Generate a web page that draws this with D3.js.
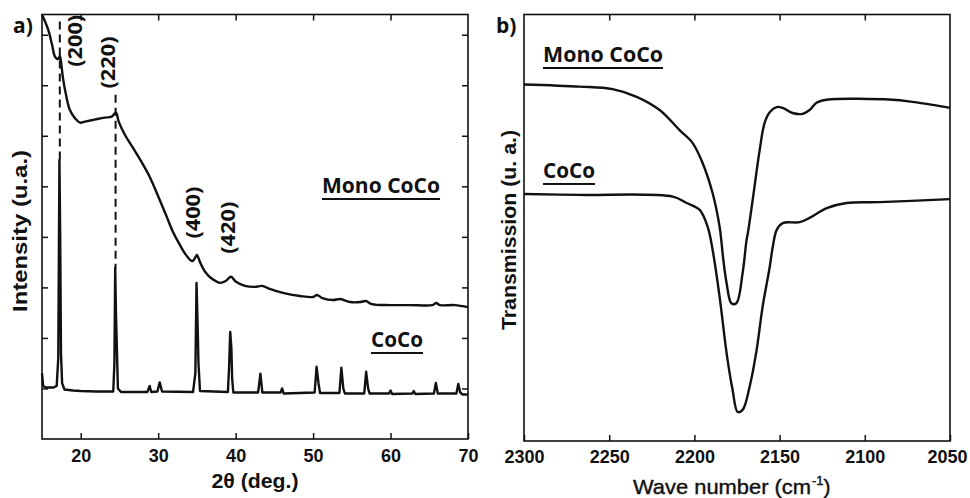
<!DOCTYPE html>
<html><head><meta charset="utf-8">
<script src="https://cdn.jsdelivr.net/npm/d3@7"></script>
<style>body{margin:0;background:#fff}svg{display:block}</style>
</head><body>
<svg id="c" width="970" height="498"></svg>
<script>
// ---------- Data ----------
// Panel a) XRD, 2θ (deg.) vs intensity (u.a.)
const xrdTicks = [20, 30, 40, 50, 60, 70];
const xrdYTicks = [1, 2, 3, 4, 5, 6, 7, 8];
const monoXRD = [
 [15.0,8.40],[15.8,8.10],[16.3,7.80],[16.7,7.56],[17.1,7.52],[17.3,7.58],[17.45,7.47],[17.7,7.15],
 [18.1,6.81],[18.6,6.51],[19.3,6.34],[19.9,6.26],[20.55,6.28],[21.8,6.32],[23.1,6.36],[24.0,6.38],
 [24.55,6.46],[24.9,6.28],[25.7,6.02],[26.75,5.76],[27.9,5.47],[28.9,5.19],[30.2,4.73],[31.1,4.40],
 [31.9,4.10],[32.8,3.84],[33.7,3.62],[34.4,3.52],[34.75,3.58],[35.0,3.64],[35.4,3.50],[36.05,3.31],
 [36.95,3.17],[38.0,3.09],[38.75,3.13],[39.4,3.21],[40.05,3.11],[41.2,3.03],[42.5,3.01],[43.4,3.03],
 [44.4,2.97],[46.1,2.89],[48.3,2.83],[50.0,2.81],[50.5,2.85],[51.2,2.79],[52.6,2.75],[53.5,2.77],
 [54.8,2.71],[56.1,2.71],[56.8,2.73],[57.6,2.67],[59.9,2.65],[62.5,2.65],[65.4,2.65],[65.9,2.69],
 [66.4,2.65],[68.3,2.65],[70.0,2.61]
];
const cocoXRD = [
 [15.0,1.30],[15.15,1.05],[15.5,1.02],[16.5,1.02],[16.9,1.05],[17.1,1.6],[17.25,5.52],[17.35,4.0],
 [17.45,1.70],[17.6,1.1],[17.9,0.98],[19,0.96],[20,0.95],[22,0.94],[24.2,0.94],[24.35,1.5],
 [24.45,3.39],[24.55,2.5],[24.65,1.9],[24.8,1.0],[25.2,0.93],[28.6,0.93],[28.9,1.05],[29.1,0.93],
 [29.9,0.94],[30.2,1.12],[30.5,0.94],[34.5,0.93],[34.8,1.3],[34.95,3.09],[35.1,2.2],[35.2,1.5],
 [35.4,0.95],[39.0,0.93],[39.15,1.4],[39.3,2.12],[39.45,1.8],[39.55,1.2],[39.7,0.92],[42.9,0.92],
 [43.2,1.29],[43.45,0.92],[45.8,0.92],[46.0,1.0],[46.2,0.9],[50.2,0.92],[50.45,1.43],[50.7,1.1],
 [50.9,0.91],[53.4,0.91],[53.65,1.41],[53.9,1.0],[54.1,0.9],[56.6,0.9],[56.85,1.33],[57.1,1.0],
 [57.3,0.9],[59.8,0.9],[60.0,0.96],[60.2,0.89],[62.8,0.9],[63.0,0.95],[63.2,0.89],[65.6,0.9],
 [65.85,1.11],[66.1,0.9],[68.5,0.9],[68.75,1.09],[69.0,0.92],[69.3,0.88],[70.0,0.88]
];
// dashed reference lines: [2θ, top, bottom]
const dashLines = [[17.3, 8.26, 5.52], [24.5, 6.81, 3.39]];
// peak labels: [text, 2θ, y]
const peakLabels = [["(200)",19.26,7.88],["(220)",23.5,7.45],["(400)",34.5,4.48],["(420)",39.0,4.18]];

// Panel b) IR, wave number vs transmission
const irTicks = [2300, 2250, 2200, 2150, 2100, 2050];
const monoIR = [
 [2300,83.6],[2267.3,83.1],[2248,82.5],[2233.9,80.7],[2220.4,77.6],[2208.7,72.9],[2201.1,69.9],
 [2195.2,65.2],[2189.3,58.1],[2185.2,50.2],[2183,42.4],[2181.1,37.0],[2178.3,32.3],[2175.4,32.3],
 [2171.7,39.4],[2169.4,47.1],[2168.6,48.8],[2165.8,56.5],[2161.7,68.2],[2158.8,74.6],[2155.8,77.1],
 [2151.7,78.3],[2148.2,78.1],[2142.4,76.9],[2136.5,76.7],[2132.4,77.6],[2128.3,79.3],[2122.4,80.0],
 [2083.7,80.0],[2072,79.5],[2060.2,78.8],[2050,78.1]
];
const cocoIR = [
 [2300,57.9],[2267.3,57.7],[2212.7,57.3],[2204.5,55.8],[2196.9,54.2],[2192.2,50.2],[2189.3,44.8],
 [2185.2,33.8],[2181.1,20.6],[2177.6,12.0],[2174.6,6.8],[2171.7,7.3],[2167.6,12.7],[2163.5,21.3],
 [2160,31.4],[2155.8,40.8],[2154.1,45.3],[2151.7,49.5],[2148.2,51.1],[2138.2,51.3],[2132.4,52.3],
 [2122.4,54.6],[2110.7,55.8],[2091.3,56.0],[2050,56.7]
];

// ---------- Drawing ----------
const svg = d3.select("#c");
const black = "#111";
const sans = "'Liberation Sans', Arial, sans-serif";
const cal = "'Open Sans', sans-serif";

function frame(g, x0, x1, y0, y1) {
  g.append("rect").attr("x", x0).attr("y", y1).attr("width", x1 - x0).attr("height", y0 - y1)
    .attr("fill", "none").attr("stroke", black).attr("stroke-width", 1.6);
}
const noDomain = g => g.select(".domain").remove();

// Panel a
const ax = d3.scaleLinear().domain([15, 70]).range([42, 468]);
const ay = d3.scaleLinear().domain([0, 8.4]).range([439, 14.5]);
const gA = svg.append("g");
frame(gA, 42, 468, 439, 14.5);

gA.append("g").attr("transform", `translate(0,${ay(0)})`)
  .call(d3.axisBottom(ax).tickValues(xrdTicks).tickSizeInner(-6).tickSizeOuter(0).tickPadding(10)).call(noDomain);
gA.append("g").attr("transform", `translate(0,${ay(8.4)})`)
  .call(d3.axisTop(ax).tickValues(xrdTicks.slice(0, 5)).tickSizeInner(-6).tickSizeOuter(0).tickFormat("")).call(noDomain);
gA.append("g").attr("transform", `translate(${ax(15)},0)`)
  .call(d3.axisLeft(ay).tickValues(xrdYTicks).tickSizeInner(-6).tickSizeOuter(0).tickFormat("")).call(noDomain);
gA.append("g").attr("transform", `translate(${ax(70)},0)`)
  .call(d3.axisRight(ay).tickValues(xrdYTicks).tickSizeInner(-6).tickSizeOuter(0).tickFormat("")).call(noDomain);

const lineA = d3.line().x(d => ax(d[0])).y(d => ay(d[1]));
const lineAs = d3.line().x(d => ax(d[0])).y(d => ay(d[1])).curve(d3.curveCatmullRom.alpha(0.5));
gA.append("path").datum(monoXRD).attr("d", lineAs).attr("fill", "none").attr("stroke", black).attr("stroke-width", 2.4).attr("stroke-linejoin", "round");
gA.append("path").datum(cocoXRD).attr("d", lineA).attr("fill", "none").attr("stroke", black).attr("stroke-width", 2.4).attr("stroke-linejoin", "round");
gA.selectAll(".dash").data(dashLines).enter().append("line")
  .attr("x1", d => ax(d[0])).attr("x2", d => ax(d[0])).attr("y1", d => ay(d[1])).attr("y2", d => ay(d[2]))
  .attr("stroke", black).attr("stroke-width", 2).attr("stroke-dasharray", "8,5");
gA.selectAll(".pl").data(peakLabels).enter().append("text")
  .attr("transform", d => `translate(${ax(d[1])},${ay(d[2])}) rotate(-90)`)
  .attr("text-anchor", "middle").attr("dominant-baseline", "central")
  .attr("textLength", 52).attr("lengthAdjust", "spacingAndGlyphs")
  .style("font-family", cal).style("font-weight", 700).style("font-size", "19px").attr("fill", black)
  .text(d => d[0]);

// Panel b
const bx = d3.scaleLinear().domain([2300, 2050]).range([524, 950]);
const by = d3.scaleLinear().domain([0, 100]).range([441, 14.5]);
const gB = svg.append("g");
frame(gB, 524, 950, 441, 14.5);
gB.append("g").attr("transform", `translate(0,${by(0)})`)
  .call(d3.axisBottom(bx).tickValues(irTicks).tickFormat(d3.format("d")).tickSizeInner(-6).tickSizeOuter(0).tickPadding(9)).call(noDomain);
gB.append("g").attr("transform", `translate(0,${by(100)})`)
  .call(d3.axisTop(bx).tickValues(irTicks.slice(1, 5)).tickSizeInner(-6).tickSizeOuter(0).tickFormat("")).call(noDomain);
const lineB = d3.line().x(d => bx(d[0])).y(d => by(d[1])).curve(d3.curveCatmullRom.alpha(0.5));
gB.append("path").datum(monoIR).attr("d", lineB).attr("fill", "none").attr("stroke", black).attr("stroke-width", 2.4).attr("stroke-linejoin", "round");
gB.append("path").datum(cocoIR).attr("d", lineB).attr("fill", "none").attr("stroke", black).attr("stroke-width", 2.4).attr("stroke-linejoin", "round");

// tick styling
svg.selectAll(".tick line").attr("stroke", black).attr("stroke-width", 1.5);
svg.selectAll(".tick text").style("font-family", sans).style("font-weight", 700).style("font-size", "18px").attr("fill", black);
gB.selectAll(".tick text").filter(d => d === 2050).attr("dx", -3);

// Labels
function lab(x, y, t, size, opts = {}) {
  const el = svg.append("text").attr("x", x).attr("y", y).text(t)
    .style("font-family", opts.font || cal).style("font-weight", opts.weight || 700)
    .style("font-size", size + "px").attr("fill", black)
    .attr("text-anchor", opts.anchor || "start");
  if (opts.len) el.attr("textLength", opts.len).attr("lengthAdjust", "spacingAndGlyphs");
  if (opts.rotate) el.attr("transform", `rotate(-90,${x},${y})`);
  if (opts.underline) {
    svg.append("line").attr("x1", x).attr("x2", x + opts.len).attr("y1", y + 6).attr("y2", y + 6)
      .attr("stroke", black).attr("stroke-width", 2);
  }
  return el;
}
lab(13, 33, "a)", 21);
lab(496, 33, "b)", 21);
lab(322, 193, "Mono CoCo", 21, {underline: true, len: 118});
lab(371, 347, "CoCo", 21, {underline: true, len: 52});
lab(543, 62, "Mono CoCo", 21, {underline: true, len: 120});
lab(543, 178, "CoCo", 21, {underline: true, len: 52});
lab(27, 231, "Intensity (u.a.)", 21, {anchor: "middle", rotate: true, font: sans, len: 162});
lab(516, 230, "Transmission (u. a.)", 21, {anchor: "middle", rotate: true, font: sans, len: 200});
lab(255, 488, "2θ (deg.)", 21, {anchor: "middle", font: sans, len: 87});
const wl = lab(633, 494, "Wave number (cm", 21, {font: sans, weight: 400, len: 178});
wl.style("stroke", black).style("stroke-width", 0.4);
const sup = svg.append("text").attr("x", 812).attr("y", 494).style("font-family", sans).style("font-size", "21px")
  .style("stroke", black).style("stroke-width", 0.4).attr("fill", black);
sup.append("tspan").attr("dy", -9).style("font-size", "13px").text("-1");
sup.append("tspan").attr("dy", 9).text(")");
</script>
</body></html>
